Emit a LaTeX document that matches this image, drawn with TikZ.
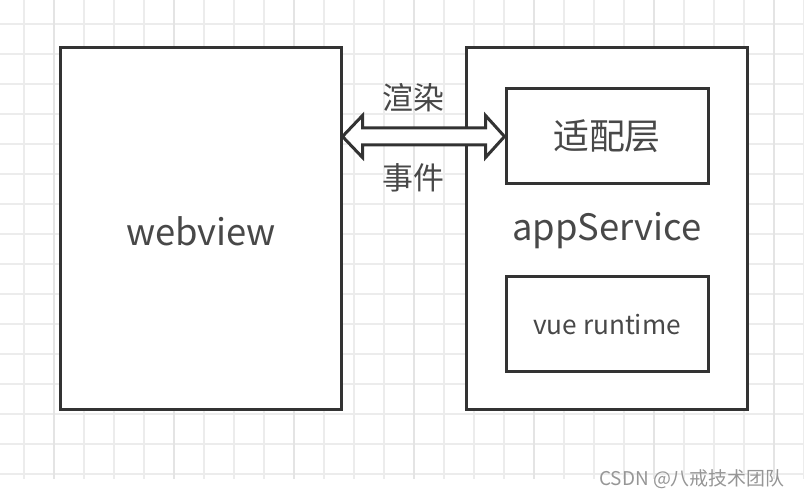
\documentclass[tikz,border=0pt]{standalone}
\usepackage{fontspec}
\setmainfont{Noto Sans CJK SC}
\usepackage{tikz}
\usetikzlibrary{positioning,calc}

\definecolor{gridline}{RGB}{236,236,236}
\definecolor{gridmajor}{RGB}{228,228,228}
\definecolor{boxline}{RGB}{51,51,51}
\definecolor{labeltext}{RGB}{72,72,72}
\definecolor{marktext}{RGB}{150,150,150}

\tikzset{
  box/.style={draw=boxline,line width=3bp,fill=white,inner sep=0pt},
  label big/.style={text=labeltext,font=\fontsize{36.5}{38}\selectfont},
  label mid/.style={text=labeltext,font=\fontsize{36}{38}\selectfont},
  label small/.style={text=labeltext,font=\fontsize{26.3}{28}\selectfont},
  label cjk/.style={text=labeltext,font=\fontsize{31}{33}\selectfont},
  fatarrow/.style={draw=boxline,line width=3bp,fill=white,line join=miter},
}

\begin{document}
\begin{tikzpicture}[>=latex]
\useasboundingbox[fill=white] (0bp,0bp) rectangle (804bp,498bp);
% grid
\foreach \gx in {24,54,...,804} \draw [gridline,line width=1.5bp] (\gx bp,19bp) -- (\gx bp,498bp);
\foreach \gy in {24,54,...,474} \draw [gridline,line width=1.5bp] (0bp,\gy bp) -- (804bp,\gy bp);
\foreach \gx in {54,174,...,774} \draw [gridmajor,line width=1.5bp] (\gx bp,19bp) -- (\gx bp,498bp);
%%
\node (webview) at (200.5bp,269bp) [box,minimum width=281bp,minimum height=362bp] {};
  \node (webviewtxt) at (201bp,267bp) [label big] {webview};
  \node (appservice) at (606.5bp,269bp) [box,minimum width=281bp,minimum height=362bp] {};
  \node (appservicetxt) at (607bp,267bp) [label big] {appService};
  \node (adapter) at (607bp,361.5bp) [box,minimum width=202bp,minimum height=95bp,label mid] {适配层};
  \node (vueruntime) at (607bp,173.5bp) [box,minimum width=202bp,minimum height=95bp,label small] {vue runtime};
  \node (render) at (413bp,400bp) [label cjk] {渲染};
  \node (event) at (413bp,320bp) [label cjk] {事件};
  \node (csdn) [anchor=east,text=marktext,font=\fontsize{19}{21}\selectfont] at (788bp,19bp) {CSDN @八戒技术团队};
  \coordinate (arrowl) at (webview.east |- adapter.west);
  \coordinate (arrowr) at (adapter.west);
  \draw [fatarrow] (arrowl) -- ++(20bp,21bp) -- ++(0bp,-12.5bp) -- ($(arrowr)+(-19bp,8.5bp)$) -- ++(0bp,12.5bp)
    -- (arrowr) -- ++(-19bp,-21bp) -- ++(0bp,12.5bp) -- ($(arrowl)+(20bp,-8.5bp)$) -- ++(0bp,-12.5bp) -- cycle;
%
\end{tikzpicture}
\end{document}
